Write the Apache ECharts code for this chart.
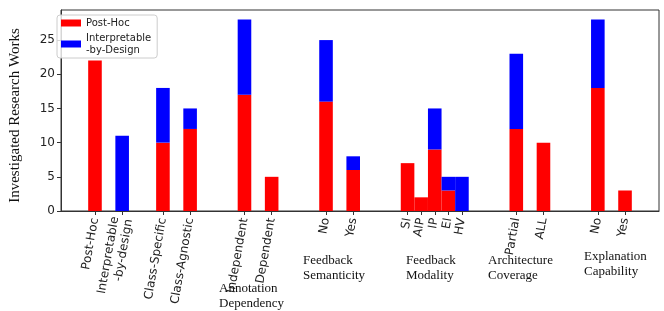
<!DOCTYPE html>
<html><head><meta charset="utf-8">
<script src="https://cdn.jsdelivr.net/npm/echarts@6/dist/echarts.min.js"></script>
<style>html,body{margin:0;padding:0;background:#fff}#c{width:664px;height:311px}</style>
</head><body><div id="c"></div>
<script>
// ---- data ----
const categories = ['Post-Hoc','Interpretable\n-by-design','Class-Specific','Class-Agnostic','Independent','Dependent','No','Yes','SI','AIP','IP','EI','HV','Partial','ALL','No','Yes'];
const postHoc = [22,0,10,12,17,5,16,6,7,2,9,3,0,12,10,18,3];
const interpretable = [0,11,8,3,11,0,9,2,0,0,6,2,5,11,0,10,0];
const groupLabels = ['Annotation\nDependency','Feedback\nSemanticity','Feedback\nModality','Architecture\nCoverage','Explanation\nCapability'];
const seriesNames = ['Post-Hoc','Interpretable\n-by-Design'];
const yTicks = [0,5,10,15,20,25];

// ---- layout: slot of each bar on a half-unit grid ----
const slots = [0,2,5,7,11,13,17,19,23,24,25,26,27,31,33,37,39];
const slotMin = -2, slotMax = 41;
const n = slotMax - slotMin + 1;
const axisKeys = [], axisLabels = [], redData = [], blueData = [];
for (let i = 0; i < n; i++) { axisKeys.push('s' + i); axisLabels.push(''); redData.push('-'); blueData.push('-'); }
slots.forEach((s, k) => {
  const idx = s - slotMin;
  axisLabels[idx] = categories[k];
  redData[idx] = postHoc[k];
  blueData[idx] = interpretable[k];
});
const groupPos = [[219,281],[303,253],[406,253],[488,253],[584,249]];

const chart = echarts.init(document.getElementById('c'), null, {renderer:'canvas'});
chart.setOption({
  animation: false,
  grid: {left: 53, right: 5, top: 10, bottom: 100, show: true, borderColor: '#333', borderWidth: 1},
  legend: {
    orient: 'vertical', left: 57, top: 15,
    data: seriesNames,
    itemWidth: 20, itemHeight: 7, itemGap: 3,
    padding: [2, 6, 2, 4],
    borderColor: '#ccc', borderWidth: 1, borderRadius: 3,
    backgroundColor: 'rgba(255,255,255,0.8)',
    textStyle: {fontFamily: 'DejaVu Sans', fontSize: 10, lineHeight: 12, color: '#222'},
    itemStyle: {borderWidth: 0},
    icon: 'rect'
  },
  xAxis: {
    type: 'category', data: axisKeys, boundaryGap: true,
    axisLine: {show: true, lineStyle: {color: '#333'}},
    axisTick: {show: true, alignWithLabel: true, length: 4, lineStyle: {color: '#333'},
      interval: (i) => axisLabels[i] !== ''},
    axisLabel: {interval: 0, rotate: 80, margin: 7, fontFamily: 'DejaVu Sans', fontSize: 12, color: '#222', lineHeight: 14,
      formatter: (v, i) => axisLabels[i]}
  },
  yAxis: {
    type: 'value', min: 0, max: 29.4, interval: 5,
    name: 'Investigated Research Works', nameLocation: 'middle', nameGap: 38,
    nameTextStyle: {fontFamily: 'Liberation Serif', fontSize: 15, color: '#111', padding: [0, 10, 0, 0]},
    axisLine: {show: true, lineStyle: {color: '#333'}},
    axisTick: {show: true, length: 4, lineStyle: {color: '#333'}},
    axisLabel: {fontFamily: 'DejaVu Sans', fontSize: 12, color: '#222', margin: 6, showMaxLabel: false,
      formatter: (v) => yTicks.includes(v) ? String(v) : ''},
    splitLine: {show: false}
  },
  series: [
    {name: seriesNames[0], type: 'bar', stack: 'a', data: redData, barWidth: '100%', itemStyle: {color: '#ff0000'}},
    {name: seriesNames[1], type: 'bar', stack: 'a', data: blueData, barWidth: '100%', itemStyle: {color: '#0000ff'}}
  ],
  graphic: groupLabels.map((t, i) => ({
    type: 'text', left: groupPos[i][0], top: groupPos[i][1],
    style: {text: t, fontFamily: 'Liberation Serif', fontSize: 13, lineHeight: 15, fill: '#111'}
  }))
});
</script></body></html>
